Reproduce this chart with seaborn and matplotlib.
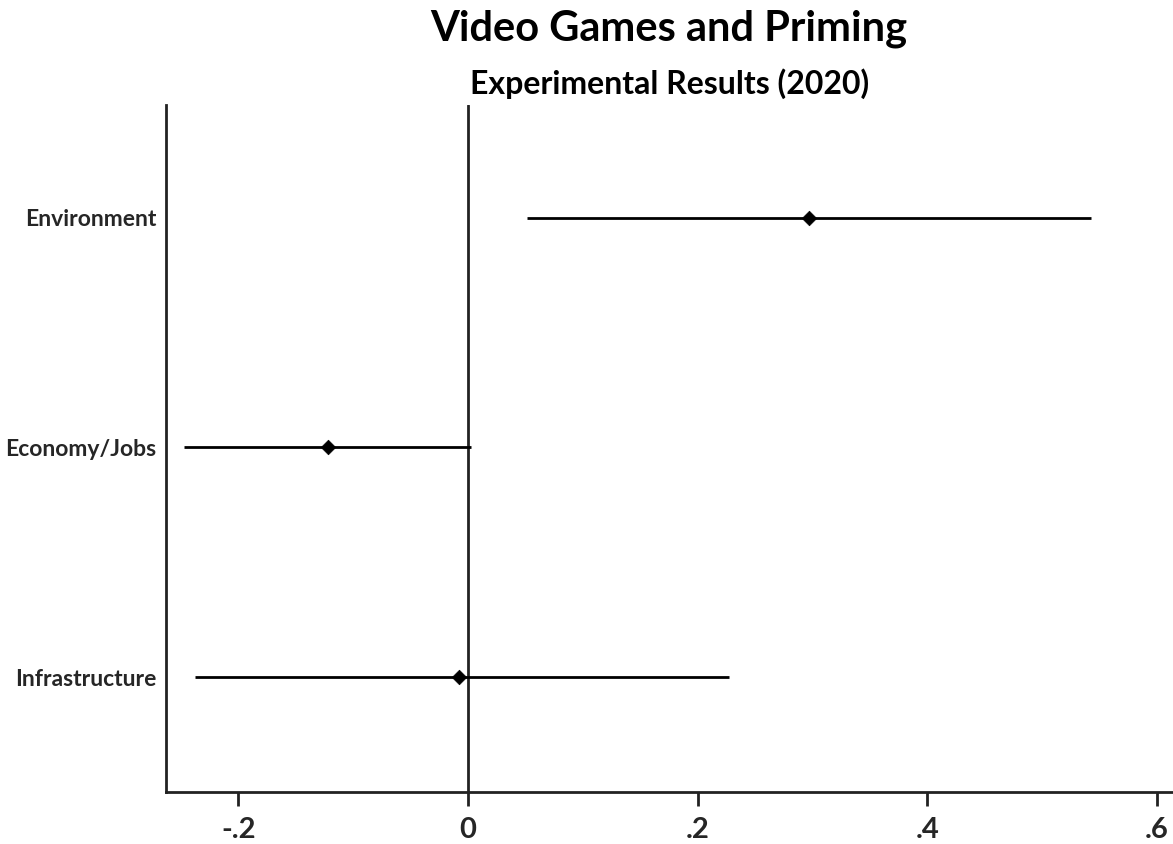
import numpy as np
import pandas as pd
import matplotlib
matplotlib.use("Agg")
import matplotlib.pyplot as plt
import seaborn as sns

# Estimated priming effects with 95% confidence bounds
categories = ["Environment", "Economy/Jobs", "Infrastructure"]
estimates = [0.297, -0.122, -0.008]
ci_low = [0.051, -0.247, -0.238]
ci_high = [0.543, 0.003, 0.227]
x_ticks = [-0.2, 0.0, 0.2, 0.4, 0.6]
x_tick_labels = ["-.2", "0", ".2", ".4", ".6"]

df = pd.DataFrame({
    "category": categories,
    "estimate": estimates,
    "low": ci_low,
    "high": ci_high,
})
df["pos"] = np.arange(len(df))

sns.set_theme(style="white")
plt.rcParams["font.family"] = ["Lato", "DejaVu Sans"]
plt.rcParams["font.weight"] = "bold"

fig = plt.figure(figsize=(11.73, 8.44), dpi=100)
ax = fig.add_axes([0.1415, 0.0616, 0.8585, 0.814])

# zero reference line
ax.axvline(0, color="#222222", lw=2, zorder=1)

# confidence intervals
ax.hlines(df["pos"], df["low"], df["high"], color="black", lw=2, zorder=2)

# point estimates
sns.scatterplot(data=df, x="estimate", y="pos", marker="D", s=55,
                color="black", edgecolor="black", linewidth=0.5,
                ax=ax, zorder=3, legend=False)

ax.set_xlim(-0.263, 0.614)
ax.set_ylim(2.5, -0.49)
ax.set_xticks(x_ticks)
ax.set_xticklabels(x_tick_labels, fontsize=21, fontweight="bold")
ax.set_yticks(df["pos"])
ax.set_yticklabels(df["category"], fontsize=16.5, fontweight="bold")
ax.set_xlabel("")
ax.set_ylabel("")

for side in ["top", "right"]:
    ax.spines[side].set_visible(False)
for side in ["left", "bottom"]:
    ax.spines[side].set_color("#222222")
    ax.spines[side].set_linewidth(2)

ax.tick_params(axis="x", direction="out", length=10, width=2, color="#222222",
               pad=8, bottom=True)
ax.tick_params(axis="y", length=0, pad=7)

fig.text(0.5705, 0.966, "Video Games and Priming", ha="center", va="center",
         fontsize=30, fontweight="bold", color="black")
fig.text(0.5705, 0.901, "Experimental Results (2020)", ha="center", va="center",
         fontsize=23, fontweight="bold", color="black")

fig.savefig("out.png", dpi=100, facecolor="white")
